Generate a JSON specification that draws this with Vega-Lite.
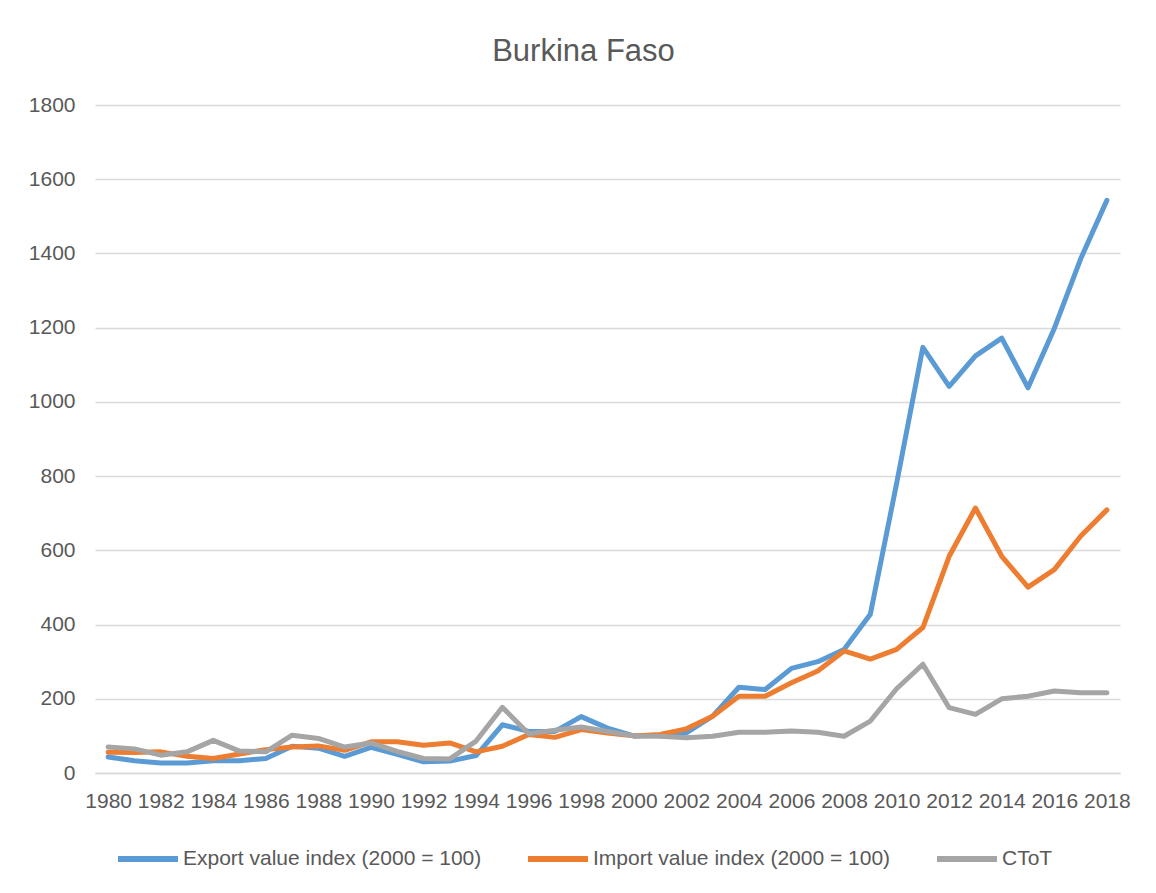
{
  "$schema": "https://vega.github.io/schema/vega-lite/v6.json",
  "width": 1025,
  "height": 668,
  "autosize": {"type": "none"},
  "padding": {"left": 95, "top": 105, "right": 36, "bottom": 120},
  "background": "white",
  "title": {
    "text": "Burkina Faso",
    "font": "Liberation Sans",
    "fontSize": 31,
    "fontWeight": "normal",
    "color": "#595959",
    "anchor": "middle",
    "dx": -24,
    "offset": 26
  },
  "data": {
    "values": [
      {"year": 1980, "series": "Export value index (2000 = 100)", "value": 43},
      {"year": 1981, "series": "Export value index (2000 = 100)", "value": 33},
      {"year": 1982, "series": "Export value index (2000 = 100)", "value": 27},
      {"year": 1983, "series": "Export value index (2000 = 100)", "value": 27},
      {"year": 1984, "series": "Export value index (2000 = 100)", "value": 33},
      {"year": 1985, "series": "Export value index (2000 = 100)", "value": 33},
      {"year": 1986, "series": "Export value index (2000 = 100)", "value": 39},
      {"year": 1987, "series": "Export value index (2000 = 100)", "value": 72},
      {"year": 1988, "series": "Export value index (2000 = 100)", "value": 67},
      {"year": 1989, "series": "Export value index (2000 = 100)", "value": 45},
      {"year": 1990, "series": "Export value index (2000 = 100)", "value": 69},
      {"year": 1991, "series": "Export value index (2000 = 100)", "value": 50},
      {"year": 1992, "series": "Export value index (2000 = 100)", "value": 30},
      {"year": 1993, "series": "Export value index (2000 = 100)", "value": 32},
      {"year": 1994, "series": "Export value index (2000 = 100)", "value": 47},
      {"year": 1995, "series": "Export value index (2000 = 100)", "value": 130},
      {"year": 1996, "series": "Export value index (2000 = 100)", "value": 112},
      {"year": 1997, "series": "Export value index (2000 = 100)", "value": 112},
      {"year": 1998, "series": "Export value index (2000 = 100)", "value": 152},
      {"year": 1999, "series": "Export value index (2000 = 100)", "value": 121},
      {"year": 2000, "series": "Export value index (2000 = 100)", "value": 100},
      {"year": 2001, "series": "Export value index (2000 = 100)", "value": 102},
      {"year": 2002, "series": "Export value index (2000 = 100)", "value": 108},
      {"year": 2003, "series": "Export value index (2000 = 100)", "value": 153},
      {"year": 2004, "series": "Export value index (2000 = 100)", "value": 231},
      {"year": 2005, "series": "Export value index (2000 = 100)", "value": 225},
      {"year": 2006, "series": "Export value index (2000 = 100)", "value": 282},
      {"year": 2007, "series": "Export value index (2000 = 100)", "value": 300},
      {"year": 2008, "series": "Export value index (2000 = 100)", "value": 333},
      {"year": 2009, "series": "Export value index (2000 = 100)", "value": 428},
      {"year": 2010, "series": "Export value index (2000 = 100)", "value": 780},
      {"year": 2011, "series": "Export value index (2000 = 100)", "value": 1147},
      {"year": 2012, "series": "Export value index (2000 = 100)", "value": 1042},
      {"year": 2013, "series": "Export value index (2000 = 100)", "value": 1124},
      {"year": 2014, "series": "Export value index (2000 = 100)", "value": 1172},
      {"year": 2015, "series": "Export value index (2000 = 100)", "value": 1038},
      {"year": 2016, "series": "Export value index (2000 = 100)", "value": 1198},
      {"year": 2017, "series": "Export value index (2000 = 100)", "value": 1385},
      {"year": 2018, "series": "Export value index (2000 = 100)", "value": 1543},
      {"year": 1980, "series": "Import value index (2000 = 100)", "value": 56},
      {"year": 1981, "series": "Import value index (2000 = 100)", "value": 55},
      {"year": 1982, "series": "Import value index (2000 = 100)", "value": 57},
      {"year": 1983, "series": "Import value index (2000 = 100)", "value": 45},
      {"year": 1984, "series": "Import value index (2000 = 100)", "value": 39},
      {"year": 1985, "series": "Import value index (2000 = 100)", "value": 51},
      {"year": 1986, "series": "Import value index (2000 = 100)", "value": 63},
      {"year": 1987, "series": "Import value index (2000 = 100)", "value": 70},
      {"year": 1988, "series": "Import value index (2000 = 100)", "value": 73},
      {"year": 1989, "series": "Import value index (2000 = 100)", "value": 61},
      {"year": 1990, "series": "Import value index (2000 = 100)", "value": 84},
      {"year": 1991, "series": "Import value index (2000 = 100)", "value": 84},
      {"year": 1992, "series": "Import value index (2000 = 100)", "value": 75},
      {"year": 1993, "series": "Import value index (2000 = 100)", "value": 81},
      {"year": 1994, "series": "Import value index (2000 = 100)", "value": 57},
      {"year": 1995, "series": "Import value index (2000 = 100)", "value": 72},
      {"year": 1996, "series": "Import value index (2000 = 100)", "value": 104},
      {"year": 1997, "series": "Import value index (2000 = 100)", "value": 96},
      {"year": 1998, "series": "Import value index (2000 = 100)", "value": 117},
      {"year": 1999, "series": "Import value index (2000 = 100)", "value": 108},
      {"year": 2000, "series": "Import value index (2000 = 100)", "value": 100},
      {"year": 2001, "series": "Import value index (2000 = 100)", "value": 104},
      {"year": 2002, "series": "Import value index (2000 = 100)", "value": 119},
      {"year": 2003, "series": "Import value index (2000 = 100)", "value": 153},
      {"year": 2004, "series": "Import value index (2000 = 100)", "value": 207},
      {"year": 2005, "series": "Import value index (2000 = 100)", "value": 207},
      {"year": 2006, "series": "Import value index (2000 = 100)", "value": 243},
      {"year": 2007, "series": "Import value index (2000 = 100)", "value": 275},
      {"year": 2008, "series": "Import value index (2000 = 100)", "value": 329},
      {"year": 2009, "series": "Import value index (2000 = 100)", "value": 307},
      {"year": 2010, "series": "Import value index (2000 = 100)", "value": 333},
      {"year": 2011, "series": "Import value index (2000 = 100)", "value": 392},
      {"year": 2012, "series": "Import value index (2000 = 100)", "value": 584},
      {"year": 2013, "series": "Import value index (2000 = 100)", "value": 714},
      {"year": 2014, "series": "Import value index (2000 = 100)", "value": 584},
      {"year": 2015, "series": "Import value index (2000 = 100)", "value": 501},
      {"year": 2016, "series": "Import value index (2000 = 100)", "value": 548},
      {"year": 2017, "series": "Import value index (2000 = 100)", "value": 638},
      {"year": 2018, "series": "Import value index (2000 = 100)", "value": 709},
      {"year": 1980, "series": "CToT", "value": 70},
      {"year": 1981, "series": "CToT", "value": 65},
      {"year": 1982, "series": "CToT", "value": 48},
      {"year": 1983, "series": "CToT", "value": 57},
      {"year": 1984, "series": "CToT", "value": 88},
      {"year": 1985, "series": "CToT", "value": 59},
      {"year": 1986, "series": "CToT", "value": 57},
      {"year": 1987, "series": "CToT", "value": 102},
      {"year": 1988, "series": "CToT", "value": 93},
      {"year": 1989, "series": "CToT", "value": 70},
      {"year": 1990, "series": "CToT", "value": 81},
      {"year": 1991, "series": "CToT", "value": 58},
      {"year": 1992, "series": "CToT", "value": 39},
      {"year": 1993, "series": "CToT", "value": 38},
      {"year": 1994, "series": "CToT", "value": 86},
      {"year": 1995, "series": "CToT", "value": 177},
      {"year": 1996, "series": "CToT", "value": 106},
      {"year": 1997, "series": "CToT", "value": 115},
      {"year": 1998, "series": "CToT", "value": 124},
      {"year": 1999, "series": "CToT", "value": 112},
      {"year": 2000, "series": "CToT", "value": 100},
      {"year": 2001, "series": "CToT", "value": 99},
      {"year": 2002, "series": "CToT", "value": 95},
      {"year": 2003, "series": "CToT", "value": 99},
      {"year": 2004, "series": "CToT", "value": 110},
      {"year": 2005, "series": "CToT", "value": 110},
      {"year": 2006, "series": "CToT", "value": 113},
      {"year": 2007, "series": "CToT", "value": 110},
      {"year": 2008, "series": "CToT", "value": 99},
      {"year": 2009, "series": "CToT", "value": 140},
      {"year": 2010, "series": "CToT", "value": 227},
      {"year": 2011, "series": "CToT", "value": 293},
      {"year": 2012, "series": "CToT", "value": 176},
      {"year": 2013, "series": "CToT", "value": 158},
      {"year": 2014, "series": "CToT", "value": 200},
      {"year": 2015, "series": "CToT", "value": 207},
      {"year": 2016, "series": "CToT", "value": 221},
      {"year": 2017, "series": "CToT", "value": 216},
      {"year": 2018, "series": "CToT", "value": 216}
    ]
  },
  "mark": {"type": "line", "strokeWidth": 5, "strokeCap": "round", "strokeJoin": "round"},
  "encoding": {
    "x": {
      "field": "year",
      "type": "ordinal",
      "title": null,
      "scale": {"padding": 0.5},
      "axis": {
        "values": [1980, 1982, 1984, 1986, 1988, 1990, 1992, 1994, 1996, 1998, 2000, 2002, 2004, 2006, 2008, 2010, 2012, 2014, 2016, 2018],
        "labelAngle": 0,
        "ticks": false,
        "domainColor": "#D9D9D9",
        "domainWidth": 1.5,
        "labelFont": "Liberation Sans",
        "labelFontSize": 21,
        "labelColor": "#595959",
        "labelPadding": 17,
        "grid": false
      }
    },
    "y": {
      "field": "value",
      "type": "quantitative",
      "title": null,
      "scale": {"domain": [0, 1800], "nice": false},
      "axis": {
        "values": [0, 200, 400, 600, 800, 1000, 1200, 1400, 1600, 1800],
        "format": "d",
        "ticks": false,
        "domain": false,
        "gridColor": "#D9D9D9",
        "gridWidth": 1.5,
        "labelFont": "Liberation Sans",
        "labelFontSize": 21,
        "labelColor": "#595959",
        "labelPadding": 20
      }
    },
    "color": {
      "field": "series",
      "type": "nominal",
      "title": null,
      "scale": {
        "domain": ["Export value index (2000 = 100)", "Import value index (2000 = 100)", "CToT"],
        "range": ["#5B9BD5", "#ED7D31", "#A5A5A5"]
      },
      "legend": {
        "orient": "none",
        "legendX": 20,
        "legendY": 721,
        "direction": "horizontal",
        "symbolType": "stroke",
        "symbolStrokeWidth": 6,
        "symbolSize": 3600,
        "labelFont": "Liberation Sans",
        "labelFontSize": 21,
        "labelColor": "#595959",
        "labelLimit": 500,
        "columnPadding": 34,
        "labelOffset": 2
      }
    }
  },
  "config": {"view": {"stroke": null}}
}
